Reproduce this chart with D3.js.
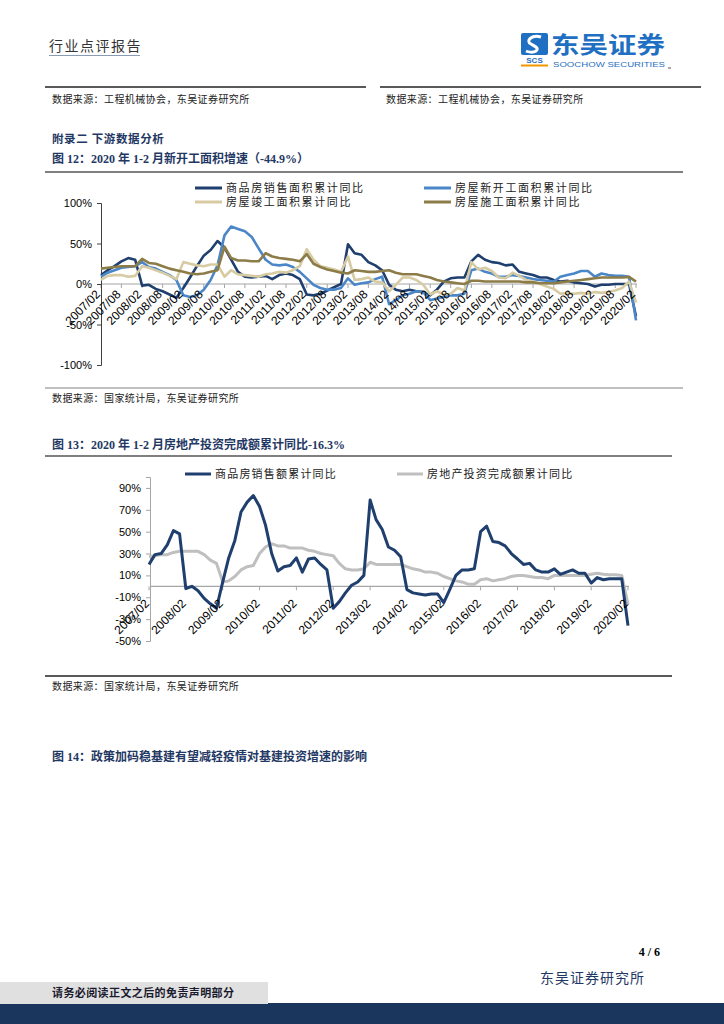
<!DOCTYPE html>
<html><head><meta charset="utf-8">
<script src="https://cdn.jsdelivr.net/npm/d3@7/dist/d3.min.js"></script>
<style>body{margin:0;background:#fff}</style>
</head><body>
<svg id="page" width="724" height="1024" xmlns="http://www.w3.org/2000/svg"></svg>
<script>
// ---------- DATA ----------
// readings every two months, 2007/02 .. 2020/02 (79 points)
const sampleStart = "2007/02";
const sampleStepMonths = 2;

const ticks12 = ["2007/02","2007/08","2008/02","2008/08","2009/02","2009/08","2010/02","2010/08","2011/02","2011/08","2012/02","2012/08","2013/02","2013/08","2014/02","2014/08","2015/02","2015/08","2016/02","2016/08","2017/02","2017/08","2018/02","2018/08","2019/02","2019/08","2020/02"];
const ticks13 = ["2007/02","2008/02","2009/02","2010/02","2011/02","2012/02","2013/02","2014/02","2015/02","2016/02","2017/02","2018/02","2019/02","2020/02"];
const yTicks12 = [-100,-50,0,50,100];
const yTicks13 = [-50,-30,-10,10,30,50,70,90];

const names12 = ["商品房销售面积累计同比","房屋新开工面积累计同比","房屋竣工面积累计同比","房屋施工面积累计同比"];
const names13 = ["商品房销售额累计同比","房地产投资完成额累计同比"];

const salesArea = [11,17,22,28,32,30,-2,-1,-6,-9,-13,-17,-5,8,22,35,42,53,45,30,15,9,8,9,10,6,11,13,11,6,-13,-14,-12,-8,-4,0,49,38,36,27,
  23,17,-1,-7,-9,-7,-9,-10,-14,-7,3,7,8,8,28,36,30,27,26,23,24,15,13,11,8,8,5,3,4,2,1,0,-3,-1,-1,0,0,0,-39.9];
const newStarts = [9,14,17,20,21,22,27,21,19,15,11,5,-14,-16,-14,-7,5,23,60,71,68,65,58,44,30,24,23,24,21,15,7,-1,-5,-7,-7,-5,7,-1,1,2,
  6,9,-25,-20,-14,-12,-9,-10,-20,-18,-16,-14,-14,-12,17,19,15,13,9,9,11,10,8,6,5,4,3,9,11,13,16,16,9,13,11,10,10,9,-44.9];
const completions = [5,10,11,11,9,10,22,20,17,14,10,6,27,25,23,22,24,24,9,17,12,11,10,9,12,13,15,14,17,22,43,30,22,20,18,15,34,5,6,8,
  3,2,-9,-1,8,8,5,-1,-13,-9,-13,-12,-5,-8,27,18,20,16,8,7,14,10,5,3,0,-3,-6,-12,-11,-12,-11,-12,-10,-11,-10,-8,-5,3,-22.9];
const underConstruction = [19,20,21,22,22,22,31,26,25,22,19,17,15,13,12,13,15,17,46,32,29,29,28,28,38,34,32,31,30,28,37,25,21,18,16,14,13,17,16,15,
  15,16,17,14,12,12,12,10,8,5,3,2,1,0,4,4,3,3,3,3,3,3,2,2,1,1,1,2,3,4,5,6,7,8,8,8,8,8.7,2.9];

const salesValue = [20,29,30,38,51,48,-2,0,-4,-11,-16,-20,4,26,42,68,77,83,73,56,30,14,18,19,26,13,25,26,20,15,-20,-14,-6,1,4,10,79,61,52,36,
  33,27,-3,-6,-7,-8,-7,-7,-15,-3,10,15,15,16,50,55,41,40,37,30,25,20,21,15,13,13,16,11,13,15,12,12,3,8,6,7,7,7,-35.9];
const reInvestment = [27,28,29,29,31,32,32,32,32,29,24,21,4,5,9,15,18,19,30,36,39,37,37,35,35,35,33,32,30,29,28,21,16,15,15,16,22,20,20,20,
  20,20,18,16,15,13,13,12,9,7,5,4,2,2,6,7,5,6,7,9,10,10,9,8,8,7,10,10,10,10,10,10,11,12,11,10.5,10.5,10,-16.3];

// ---------- HELPERS ----------
const parseM = d3.timeParse("%Y/%m");
const t0 = parseM(sampleStart);
const sampleDates = salesArea.map((_, i) => d3.timeMonth.offset(t0, i * sampleStepMonths));

const svg = d3.select("#page");
const CJK = "'Noto Sans CJK SC','Noto Sans CJK JP',sans-serif";
const SERIF = "'Liberation Serif','Noto Sans CJK SC',serif";
const SANS = "'Liberation Sans',Arial,sans-serif";
const NAVY_T = "#1f3864";

function txt(x, y, s, o = {}) {
  const t = svg.append("text").attr("x", x).attr("y", y).text(s)
    .attr("font-family", o.ff || CJK).attr("font-size", o.fs || 11)
    .attr("fill", o.fill || "#000");
  if (o.fw) t.attr("font-weight", o.fw);
  if (o.ls != null) t.attr("letter-spacing", o.ls);
  if (o.anchor) t.attr("text-anchor", o.anchor);
  if (o.tl) t.attr("textLength", o.tl).attr("lengthAdjust", "spacingAndGlyphs");
  return t;
}
function hline(x1, x2, y, col, w) {
  svg.append("line").attr("x1", x1).attr("x2", x2).attr("y1", y).attr("y2", y)
    .attr("stroke", col).attr("stroke-width", w);
}

// ---------- PAGE HEADER ----------
txt(49, 51, "行业点评报告", {fs: 14, fill: "#333", ls: 1.5});
hline(49, 140, 55.5, "#8a9bb5", 1.2);

// logo
const lg = svg.append("g");
lg.append("rect").attr("x", 521).attr("y", 33).attr("width", 27).attr("height", 22).attr("rx", 2).attr("fill", "#1f6fc2");
lg.append("path").attr("d", "M541,37 C532,34 525,41 531,44 C536,47 539,48 536,51 C533,53 528,52 526,51")
  .attr("fill", "none").attr("stroke", "#fff").attr("stroke-width", 3);
lg.append("text").attr("x", 534.5).attr("y", 63).attr("text-anchor", "middle").text("SCS")
  .attr("font-family", SANS).attr("font-weight", "bold").attr("font-size", 8).attr("fill", "#1f6fc2");
lg.append("rect").attr("x", 521).attr("y", 64.5).attr("width", 27).attr("height", 2).attr("fill", "#f39800");
txt(551, 53, "东吴证券", {fs: 23, fw: "bold", fill: "#1f6fc2", tl: 114});
txt(553, 66.5, "SOOCHOW SECURITIES", {ff: SANS, fs: 8, fill: "#1f6fc2", tl: 112});
hline(668, 671, 68, "#555", 1);

hline(45, 366, 87, "#222", 1.6);
hline(380, 701, 87, "#222", 1.6);
txt(52, 103, "数据来源：工程机械协会，东吴证券研究所", {fs: 10, ls: 0.4, fill: "#222"});
txt(386, 103, "数据来源：工程机械协会，东吴证券研究所", {fs: 10, ls: 0.4, fill: "#222"});

txt(52, 143, "附录二 下游数据分析", {ff: SERIF, fs: 11.5, fw: "bold", fill: NAVY_T, ls: 0.6});
txt(52, 163, "图 12：2020 年 1-2 月新开工面积增速（-44.9%）", {ff: SERIF, fs: 12, fw: "bold", fill: NAVY_T});
hline(45, 683, 172, "#808080", 2);

// ---------- CHART 12 ----------
const col12 = ["#1f3f6e", "#4a86c8", "#d6cba2", "#8c7c48"];
const x12 = d3.scaleTime().domain([parseM("2007/02"), parseM("2020/02")]).range([101, 636]);
const y12 = d3.scaleLinear().domain([-100, 100]).range([365, 203]);

const g12 = svg.append("g");
g12.append("line").attr("x1", 101).attr("x2", 637).attr("y1", y12(0)).attr("y2", y12(0))
  .attr("stroke", "#a6a6a6").attr("stroke-width", 1.2);
ticks12.forEach(t => {
  g12.append("line").attr("x1", x12(parseM(t))).attr("x2", x12(parseM(t)))
    .attr("y1", y12(0)).attr("y2", y12(0) + 4).attr("stroke", "#a6a6a6");
});
const yAx12 = g12.append("g").attr("transform", "translate(101,0)")
  .call(d3.axisLeft(y12).tickValues(yTicks12).tickSize(4).tickPadding(5).tickFormat(d => d + "%"));
yAx12.select(".domain").attr("stroke", "#404040");
yAx12.selectAll(".tick line").attr("stroke", "#404040");
yAx12.selectAll("text").attr("font-family", SANS).attr("font-size", 11).attr("fill", "#000");

const series12 = [salesArea, newStarts, completions, underConstruction];
const line12 = d3.line().x((d, i) => x12(sampleDates[i])).y(d => y12(d));
series12.forEach((s, k) => {
  g12.append("path").datum(s).attr("d", line12).attr("fill", "none")
    .attr("stroke", col12[k]).attr("stroke-width", 2.6).attr("stroke-linejoin", "round");
});
ticks12.forEach(t => {
  const xx = x12(parseM(t));
  g12.append("text").attr("transform", `translate(${xx},${y12(0) + 11}) rotate(-45)`)
    .attr("text-anchor", "end").attr("font-family", SANS).attr("font-size", 12).text(t);
});
// legend 12
const leg12 = [[195, 188], [424, 188], [195, 202], [424, 202]];
names12.forEach((n, k) => {
  const [lx, ly] = leg12[k];
  svg.append("line").attr("x1", lx).attr("x2", lx + 27).attr("y1", ly).attr("y2", ly)
    .attr("stroke", col12[k]).attr("stroke-width", 3);
  txt(lx + 31, ly + 4, n, {fs: 11, ls: 1.6, fill: "#222"});
});
hline(45, 683, 388, "#808080", 1.2);
txt(52, 402, "数据来源：国家统计局，东吴证券研究所", {fs: 10, ls: 0.4, fill: "#222"});

// ---------- CHART 13 ----------
txt(52, 449, "图 13：2020 年 1-2 月房地产投资完成额累计同比-16.3%", {ff: SERIF, fs: 12, fw: "bold", fill: NAVY_T});
hline(45, 672, 456, "#555", 1.4);
const col13 = ["#1f3f6e", "#bfbfbf"];
const x13 = d3.scaleTime().domain([parseM("2007/02"), parseM("2020/02")]).range([149, 628]);
const y13 = d3.scaleLinear().domain([-50, 100]).range([641, 477]);
const g13 = svg.append("g");
g13.append("line").attr("x1", 150).attr("x2", 629).attr("y1", y13(0)).attr("y2", y13(0))
  .attr("stroke", "#a6a6a6").attr("stroke-width", 1.2);
ticks13.forEach(t => {
  g13.append("line").attr("x1", x13(parseM(t))).attr("x2", x13(parseM(t)))
    .attr("y1", y13(0)).attr("y2", y13(0) + 4).attr("stroke", "#a6a6a6");
});
const yAx13 = g13.append("g").attr("transform", "translate(150,0)")
  .call(d3.axisLeft(y13).tickValues(yTicks13).tickSize(4).tickPadding(5).tickFormat(d => d + "%"));
yAx13.select(".domain").attr("stroke", "#a6a6a6");
yAx13.selectAll(".tick line").attr("stroke", "#a6a6a6");
yAx13.selectAll("text").attr("font-family", SANS).attr("font-size", 11).attr("fill", "#000");
const line13 = d3.line().x((d, i) => x13(sampleDates[i])).y(d => y13(d));
[reInvestment, salesValue].forEach((s, k) => {
  g13.append("path").datum(s).attr("d", line13).attr("fill", "none")
    .attr("stroke", k === 0 ? col13[1] : col13[0]).attr("stroke-width", 3).attr("stroke-linejoin", "round");
});
ticks13.forEach(t => {
  const xx = x13(parseM(t));
  g13.append("text").attr("transform", `translate(${xx + 1},${y13(0) + 18}) rotate(-45)`)
    .attr("text-anchor", "end").attr("font-family", SANS).attr("font-size", 12).text(t);
});
const leg13 = [[185, 474], [397, 474]];
names13.forEach((n, k) => {
  const [lx, ly] = leg13[k];
  svg.append("line").attr("x1", lx).attr("x2", lx + 26).attr("y1", ly).attr("y2", ly)
    .attr("stroke", col13[k]).attr("stroke-width", 3);
  txt(lx + 30, ly + 4, n, {fs: 11, ls: 1.2, fill: "#222"});
});
hline(45, 672, 676, "#222", 1.4);
txt(52, 690, "数据来源：国家统计局，东吴证券研究所", {fs: 10, ls: 0.4, fill: "#222"});

txt(52, 761, "图 14：政策加码稳基建有望减轻疫情对基建投资增速的影响", {ff: SERIF, fs: 12, fw: "bold", fill: NAVY_T});

// ---------- FOOTER ----------
txt(660, 956, "4 / 6", {ff: SERIF, fs: 12, fw: "bold", anchor: "end"});
txt(540, 983, "东吴证券研究所", {fs: 14, fill: "#1f3864", ls: 1});
svg.append("rect").attr("x", 0).attr("y", 1003).attr("width", 724).attr("height", 21).attr("fill", "#1a365d");
svg.append("rect").attr("x", 0).attr("y", 982).attr("width", 268).attr("height", 22).attr("fill", "#e0e0e0");
txt(52, 997, "请务必阅读正文之后的免责声明部分", {fs: 11, fw: "bold", fill: "#1a1a2e", ls: 0.4});
</script>
</body></html>
